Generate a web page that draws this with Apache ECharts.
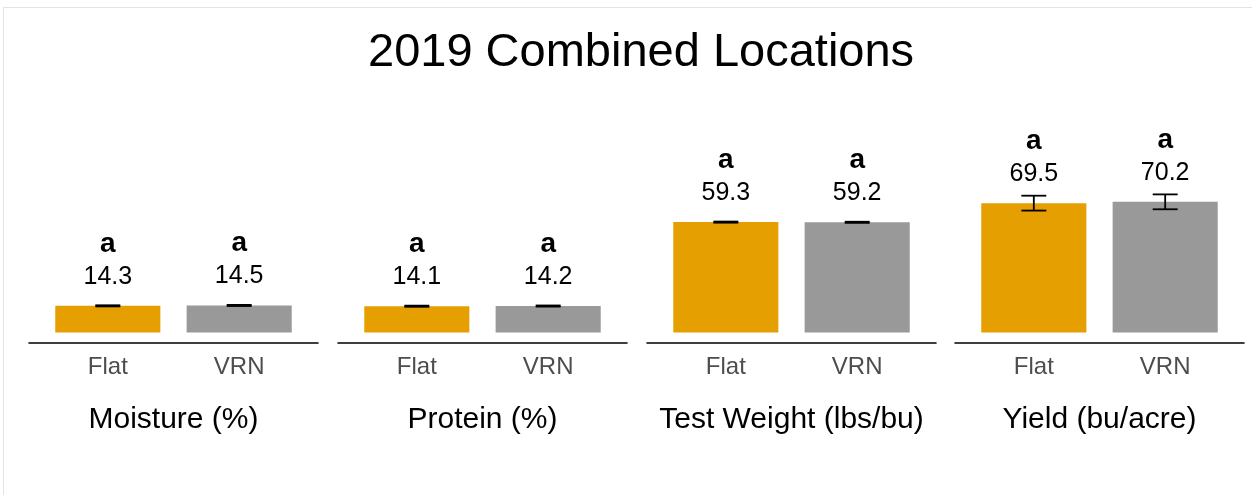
<!DOCTYPE html>
<html>
<head>
<meta charset="utf-8">
<script src="https://cdn.jsdelivr.net/npm/echarts@6/dist/echarts.min.js"></script>
<style>
  html, body { margin: 0; padding: 0; background: #fff; }
  #show { width: 1252px; height: 495px; }
  #frame { position: absolute; left: 3px; top: 7px; right: 0; bottom: 0;
           border-left: 1px solid #e3e3e3; border-top: 1px solid #e3e3e3; pointer-events: none; }
</style>
</head>
<body>
<div id="show"></div>
<div id="frame"></div>
<script>
// facet labels and treatments
var traits = ['Moisture (%)', 'Protein (%)', 'Test Weight (lbs/bu)', 'Yield (bu/acre)'];
var treatments = ['Flat', 'VRN'];
// means + standard errors
var flatMeans = [14.3, 14.1, 59.3, 69.5];
var vrnMeans = [14.5, 14.2, 59.2, 70.2];
var flatSE = [0.3, 0.3, 0.3, 4.0];
var vrnSE = [0.3, 0.3, 0.3, 4.0];
var flatLetters = ['a', 'a', 'a', 'a'];
var vrnLetters = ['a', 'a', 'a', 'a'];

var colors = ['#E69F00', '#999999'];
var font = 'Liberation Sans, Arial, sans-serif';
var panelLeft = [29, 338, 647, 955];

var myChart = echarts.init(document.getElementById('show'));

function makeRender(letters) {
    return function (params, api) {
        var x = api.value(0), m = api.value(1), se = api.value(2);
        var tl = api.coord([x - 0.4, m]);
        var br = api.coord([x + 0.4, 0]);
        var hi = api.coord([x, m + se]);
        var lo = api.coord([x, m - se]);
        var cap = api.size([0.095, 0])[0];
        var eb = { stroke: '#000', lineWidth: 1.8 };
        var cx = tl[0] + (br[0] - tl[0]) / 2;
        return {
            type: 'group',
            children: [
                { type: 'rect', shape: { x: tl[0], y: tl[1], width: br[0] - tl[0], height: br[1] - tl[1] },
                  style: { fill: colors[params.dataIndex] } },
                { type: 'line', shape: { x1: hi[0], y1: hi[1], x2: lo[0], y2: lo[1] }, style: eb },
                { type: 'line', shape: { x1: hi[0] - cap, y1: hi[1], x2: hi[0] + cap, y2: hi[1] }, style: eb },
                { type: 'line', shape: { x1: lo[0] - cap, y1: lo[1], x2: lo[0] + cap, y2: lo[1] }, style: eb },
                { type: 'text', x: cx, y: tl[1] - 29,
                  style: { text: m.toFixed(1), fontSize: 25, fontFamily: font, fill: '#000',
                           align: 'center', verticalAlign: 'middle' } },
                { type: 'text', x: cx, y: tl[1] - 62,
                  style: { text: letters[params.dataIndex], fontSize: 28, fontWeight: 'bold', fontFamily: font,
                           fill: '#000', align: 'center', verticalAlign: 'middle' } }
            ]
        };
    };
}

var grids = [], xAxes = [], yAxes = [], series = [];
traits.forEach(function (t, i) {
    grids.push({ left: panelLeft[i], top: 131.5, width: 289, height: 211 });
    xAxes.push({
        type: 'value', gridIndex: i, min: 0.4, max: 2.6,
        splitLine: { show: false }, axisTick: { show: false },
        axisLine: { show: true, onZero: false, lineStyle: { color: '#000', width: 1.6 } },
        axisLabel: {
            customValues: [1, 2],
            formatter: function (v) { return treatments[Math.round(v) - 1]; },
            fontSize: 24, color: '#4d4d4d', margin: 13, fontFamily: font
        },
        name: t, nameLocation: 'middle', nameGap: 62,
        nameTextStyle: { fontSize: 30, color: '#000', fontFamily: font }
    });
    yAxes.push({ type: 'value', gridIndex: i, min: -5.4, max: 108, show: false });
    series.push({
        type: 'custom', xAxisIndex: i, yAxisIndex: i,
        renderItem: makeRender([flatLetters[i], vrnLetters[i]]),
        data: [[1, flatMeans[i], flatSE[i]], [2, vrnMeans[i], vrnSE[i]]]
    });
});

var option = {
    backgroundColor: '#fff',
    animation: false,
    textStyle: { fontFamily: font },
    title: {
        text: '2019 Combined Locations', left: 363, top: 25,
        textStyle: { fontSize: 47, fontWeight: 'normal', color: '#000', fontFamily: font }
    },
    grid: grids,
    xAxis: xAxes,
    yAxis: yAxes,
    series: series
};
myChart.setOption(option);
</script>
</body>
</html>
